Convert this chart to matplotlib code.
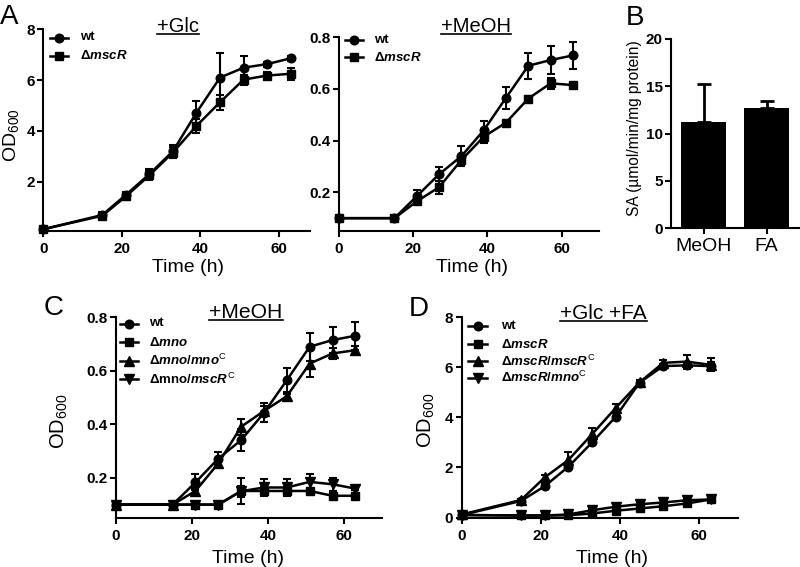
import matplotlib
matplotlib.use("Agg")
import matplotlib.pyplot as plt
from matplotlib.lines import Line2D

plt.rcParams['font.family'] = ['Liberation Sans', 'DejaVu Sans']
plt.rcParams['mathtext.fontset'] = 'custom'
plt.rcParams['mathtext.rm'] = 'Liberation Sans:bold'
plt.rcParams['mathtext.it'] = 'Liberation Sans:italic:bold'
plt.rcParams['mathtext.bf'] = 'Liberation Sans:bold'
plt.rcParams['mathtext.sf'] = 'Liberation Sans'

# ---------------- data ----------------
hours = [0, 15, 21, 27, 33, 39, 45, 51, 57, 63]

glc_wt = [0.13, 0.69, 1.48, 2.30, 3.20, 4.72, 6.10, 6.49, 6.63, 6.86]
glc_wt_sd = [0.05, 0.10, 0.12, 0.20, 0.25, 0.45, 0.95, 0.45, 0.10, 0.10]
glc_mscR = [0.13, 0.66, 1.42, 2.25, 3.15, 4.20, 5.13, 6.02, 6.18, 6.25]
glc_mscR_sd = [0.05, 0.10, 0.15, 0.20, 0.20, 0.28, 0.30, 0.20, 0.15, 0.23]

meoh_wt = [0.10, 0.10, 0.185, 0.27, 0.34, 0.44, 0.566, 0.69, 0.712, 0.73]
meoh_wt_sd = [0, 0, 0.025, 0.027, 0.04, 0.035, 0.043, 0.05, 0.053, 0.053]
meoh_mscR = [0.10, 0.10, 0.165, 0.22, 0.325, 0.415, 0.47, 0.563, 0.622, 0.615]
meoh_mscR_sd = [0, 0, 0.01, 0.025, 0.015, 0.025, 0.008, 0.008, 0.022, 0.008]

sa_labels = ['MeOH', 'FA']
sa_mean = [11.26, 12.67]
sa_sd = [3.98, 0.73]

c_wt = [0.10, 0.10, 0.183, 0.272, 0.341, 0.443, 0.565, 0.69, 0.715, 0.731]
c_wt_sd = [0, 0, 0.03, 0.025, 0.04, 0.035, 0.045, 0.053, 0.05, 0.052]
c_mno = [0.10, 0.10, 0.10, 0.10, 0.151, 0.151, 0.151, 0.151, 0.133, 0.133]
c_mno_sd = [0, 0, 0, 0, 0.05, 0.015, 0.015, 0.01, 0.01, 0.01]
c_mnoC = [0.10, 0.10, 0.151, 0.254, 0.391, 0.45, 0.505, 0.627, 0.665, 0.677]
c_mnoC_sd = [0, 0, 0.01, 0.01, 0.03, 0.02, 0.01, 0.05, 0.02, 0.015]
c_mscRC = [0.10, 0.10, 0.10, 0.10, 0.15, 0.164, 0.164, 0.185, 0.176, 0.16]
c_mscRC_sd = [0, 0, 0, 0, 0.02, 0.03, 0.03, 0.028, 0.024, 0.005]

d_wt = [0.10, 0.66, 1.25, 2.03, 3.00, 4.03, 5.39, 6.05, 6.08, 6.05]
d_wt_sd = [0.05, 0.05, 0.10, 0.10, 0.10, 0.15, 0.10, 0.10, 0.15, 0.15]
d_mscR = [0.10, 0.08, 0.08, 0.09, 0.16, 0.27, 0.36, 0.45, 0.56, 0.72]
d_mscR_sd = [0.02, 0.02, 0.02, 0.05, 0.05, 0.08, 0.05, 0.05, 0.08, 0.05]
d_mscRC = [0.12, 0.70, 1.60, 2.30, 3.33, 4.38, 5.40, 6.18, 6.23, 6.10]
d_mscRC_sd = [0.05, 0.05, 0.10, 0.30, 0.23, 0.15, 0.10, 0.10, 0.26, 0.26]
d_mnoC = [0.10, 0.08, 0.08, 0.12, 0.29, 0.43, 0.53, 0.60, 0.69, 0.72]
d_mnoC_sd = [0.02, 0.02, 0.02, 0.05, 0.08, 0.10, 0.10, 0.10, 0.10, 0.05]

# ---------------- layout helpers ----------------
W, H = 800, 567
fig = plt.figure(figsize=(W / 100, H / 100), dpi=100)


def fx(x):
    return x / W


def fy(y):
    return 1 - y / H


def axes_px(l, t, r, b):
    return fig.add_axes([fx(l), fy(b), (r - l) / W, (b - t) / H])


TICKFONT = dict(family='Liberation Sans', weight='bold', size=11)


def style(ax):
    for s in ['top', 'right']:
        ax.spines[s].set_visible(False)
    for s in ['left', 'bottom']:
        ax.spines[s].set_linewidth(1.5)
    ax.tick_params(direction='out', length=4, width=1.5, pad=2)
    ax.tick_params(axis='x', pad=4)
    for lab in ax.get_xticklabels() + ax.get_yticklabels():
        lab.set_fontproperties(matplotlib.font_manager.FontProperties(**TICKFONT))


MARK = {'o': 6.2, 's': 5.6, '^': 6.5, 'v': 6.5}


def series(ax, y, sd, m):
    ax.errorbar(hours, y, yerr=sd, color='black', marker=m, ms=MARK[m], lw=1.8,
                elinewidth=1.5, capsize=3, capthick=1.5, clip_on=False, zorder=3)


def legend(entries, x0, x1, xt, ys, size=9.5):
    for (m, lab), y in zip(entries, ys):
        fig.add_artist(Line2D([fx(x0), fx(x1)], [fy(y), fy(y)], color='black', lw=1.8,
                              transform=fig.transFigure))
        fig.add_artist(Line2D([fx((x0 + x1) / 2)], [fy(y)], color='black', marker=m,
                              ms=MARK[m], transform=fig.transFigure))
        fig.text(fx(xt), fy(y), lab, fontsize=size, fontweight='bold', va='center', ha='left')


titles = []


def title(x, y, s, size):
    t = fig.text(fx(x), fy(y), s, fontsize=size, ha='center', va='baseline')
    titles.append((t, y))


def xlabel(x, y, s='Time (h)'):
    fig.text(fx(x), fy(y), s, fontsize=14, ha='center', va='baseline')


def odlabel(x, y, size=14.5):
    fig.text(fx(x), fy(y), r'OD$_{\mathsf{600}}$', fontsize=size, rotation=90,
             ha='center', va='center')


def letter(x, y, s):
    fig.text(fx(x), fy(y), s, fontsize=20, ha='left', va='baseline')


# ---------------- Panel A (+Glc) ----------------
ax1 = axes_px(43.3, 29.3, 310, 230.5)
series(ax1, glc_wt, glc_wt_sd, 'o')
series(ax1, glc_mscR, glc_mscR_sd, 's')
ax1.set_xlim(0, 67.9)
ax1.set_ylim(0.08, 8)
ax1.set_xticks([0, 20, 40, 60])
ax1.set_yticks([2, 4, 6, 8])
style(ax1)
legend([('o', 'wt'), ('s', r'$\Delta\mathit{mscR}$')], 50, 68, 80, [37.5, 55.5])
title(177.5, 32, '+Glc', 14.5)
xlabel(188, 272.5)
odlabel(11, 135, 14)
letter(0, 23.5, 'A')

# ---------------- Panel A (+MeOH) ----------------
ax2 = axes_px(338.7, 37.3, 599, 230.7)
series(ax2, meoh_wt, meoh_wt_sd, 'o')
series(ax2, meoh_mscR, meoh_mscR_sd, 's')
ax2.set_xlim(0, 70)
ax2.set_ylim(0.0515, 0.8)
ax2.set_xticks([0, 20, 40, 60])
ax2.set_yticks([0.2, 0.4, 0.6, 0.8])
ax2.set_yticklabels(['0.2', '0.4', '0.6', '0.8'])
style(ax2)
legend([('o', 'wt'), ('s', r'$\Delta\mathit{mscR}$')], 345, 363, 374, [40, 57.3])
title(475.5, 32, '+MeOH', 14.5)
xlabel(471.5, 272.5)

# ---------------- Panel B ----------------
axb = axes_px(671, 39, 800, 228.3)
pos = [0, 1]
axb.bar(pos, sa_mean, width=0.71, color='black', zorder=2)
axb.errorbar(pos, sa_mean, yerr=[[0, 0], sa_sd], fmt='none', ecolor='black',
             elinewidth=2, capsize=5, capthick=2, zorder=1)
axb.set_xlim(-0.52, 1.53)
axb.set_ylim(0, 20)
axb.set_yticks([0, 5, 10, 15, 20])
axb.set_xticks(pos)
style(axb)
axb.set_xticklabels(sa_labels, fontsize=14, fontweight='normal')
axb.tick_params(axis='x', pad=3)
fig.text(fx(635), fy(128.5), 'SA (µmol/min/mg protein)', fontsize=11.2, rotation=90,
         ha='center', va='center')
letter(626, 25, 'B')

# ---------------- Panel C ----------------
axc = axes_px(115.5, 317.3, 382, 518)
series(axc, c_wt, c_wt_sd, 'o')
series(axc, c_mno, c_mno_sd, 's')
series(axc, c_mnoC, c_mnoC_sd, '^')
series(axc, c_mscRC, c_mscRC_sd, 'v')
axc.set_xlim(0, 70)
axc.set_ylim(0.05, 0.8)
axc.set_xticks([0, 20, 40, 60])
axc.set_yticks([0.2, 0.4, 0.6, 0.8])
axc.set_yticklabels(['0.2', '0.4', '0.6', '0.8'])
style(axc)
legend([('o', 'wt'), ('s', r'$\Delta\mathit{mno}$'),
        ('^', r'$\Delta\mathit{mno/mno}^{\mathsf{C}}$'),
        ('v', r'$\Delta\mathrm{mno}/\mathit{mscR}^{\mathsf{C}}$')],
       120, 138, 149, [323.5, 342, 360.5, 379])
title(246, 318, '+MeOH', 15.2)
xlabel(248.5, 563)
odlabel(59, 421)
letter(44, 315, 'C')

# ---------------- Panel D ----------------
axd = axes_px(461.7, 317.3, 738.3, 517.5)
series(axd, d_wt, d_wt_sd, 'o')
series(axd, d_mscR, d_mscR_sd, 's')
series(axd, d_mscRC, d_mscRC_sd, '^')
series(axd, d_mnoC, d_mnoC_sd, 'v')
axd.set_xlim(0, 70)
axd.set_ylim(0, 8)
axd.set_xticks([0, 20, 40, 60])
axd.set_yticks([0, 2, 4, 6, 8])
style(axd)
legend([('o', 'wt'), ('s', r'$\Delta\mathit{mscR}$'),
        ('^', r'$\Delta\mathit{mscR/mscR}^{\mathsf{C}}$'),
        ('v', r'$\Delta\mathit{mscR/mno}^{\mathsf{C}}$')],
       468, 487, 501, [326, 344, 361, 377.5])
title(603.5, 319.3, '+Glc +FA', 15)
xlabel(611.5, 563)
odlabel(426, 420)
letter(409, 316.5, 'D')

# ---------------- underlines for titles ----------------
fig.canvas.draw()
r = fig.canvas.get_renderer()
for t, y in titles:
    bb = t.get_window_extent(renderer=r)
    fig.add_artist(Line2D([bb.x0 / W, bb.x1 / W], [fy(y + 1.8), fy(y + 1.8)],
                          color='black', lw=1.2, transform=fig.transFigure))

fig.savefig('out.png', dpi=100)
